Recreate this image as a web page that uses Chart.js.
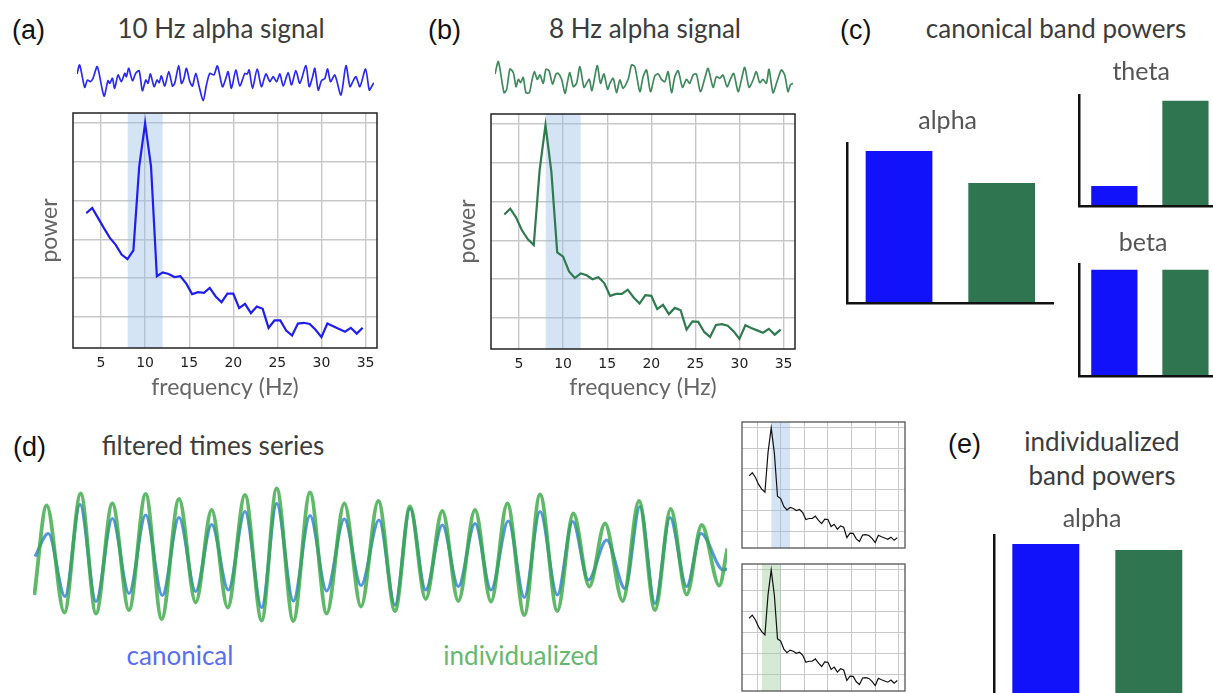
<!DOCTYPE html>
<html lang="en">
<head>
<meta charset="utf-8">
<title>Individualized alpha band powers</title>
<script src="https://cdn.jsdelivr.net/npm/chart.js@4.4.1/dist/chart.umd.min.js"></script>
<style>
  body { margin: 0; width: 1213px; height: 693px; overflow: hidden; background: #fff; position: relative; }
  canvas { position: absolute; }
  .lbl { position: absolute; font-family: "Liberation Sans", Arial, sans-serif; font-size: 27px; color: #111; line-height: 1; transform: translateY(-50%); }
  .hd { position: absolute; font-family: Lato, sans-serif; font-size: 26px; color: #3c3c3c; line-height: 1; white-space: nowrap; transform: translate(-50%, -50%); }
</style>
</head>
<body>
  <div class="lbl" style="left:12px;top:30px">(a)</div>
  <div class="hd" style="left:221px;top:28px">10 Hz alpha signal</div>
  <div class="lbl" style="left:428px;top:30px">(b)</div>
  <div class="hd" style="left:645px;top:28px">8 Hz alpha signal</div>
  <div class="lbl" style="left:840px;top:30px">(c)</div>
  <div class="hd" style="left:1056px;top:28px">canonical band powers</div>
  <div class="lbl" style="left:13px;top:447px">(d)</div>
  <div class="hd" style="left:213px;top:445px">filtered times series</div>
  <div class="hd" style="left:180px;top:655px;color:#5a6ef0">canonical</div>
  <div class="hd" style="left:521px;top:655px;color:#64b96e">individualized</div>
  <div class="lbl" style="left:948px;top:444px">(e)</div>
  <div class="hd" style="left:1102px;top:441px">individualized</div>
  <div class="hd" style="left:1102px;top:475px">band powers</div>

  <canvas id="traceA" width="297" height="42" style="left:77px;top:62px"></canvas>
  <canvas id="traceB" width="298" height="40" style="left:495px;top:58px"></canvas>
  <canvas id="psdA" width="370" height="297" style="left:20px;top:108px"></canvas>
  <canvas id="psdB" width="370" height="297" style="left:438px;top:108px"></canvas>
  <canvas id="alphaC" width="220" height="208" style="left:838px;top:100px"></canvas>
  <canvas id="thetaC" width="168" height="161" style="left:1058px;top:50px"></canvas>
  <canvas id="betaC" width="168" height="159" style="left:1058px;top:222px"></canvas>
  <canvas id="waves" width="694" height="150" style="left:33px;top:480px"></canvas>
  <canvas id="miniTop" width="165" height="128" style="left:741px;top:421px"></canvas>
  <canvas id="miniBottom" width="165" height="129" style="left:741px;top:563px"></canvas>
  <canvas id="alphaE" width="225" height="206" style="left:980px;top:495px"></canvas>

  <script>
    // power spectra (arbitrary log power units)
    const freqs = [3.33, 4, 4.67, 5.33, 6, 6.67, 7.33, 8, 8.67, 9.33, 10, 10.67, 11.33, 12, 12.67, 13.33,
      14, 14.67, 15.33, 16, 16.67, 17.33, 18, 18.67, 19.33, 20, 20.67, 21.33, 22, 22.67, 23.33, 24,
      24.67, 25.33, 26, 26.67, 27.33, 28, 28.67, 29.33, 30, 30.67, 31.33, 32, 32.67, 33.33, 34, 34.67];
    const psd10 = [2.68, 2.81, 2.55, 2.29, 2.04, 1.86, 1.61, 1.49, 1.72, 3.88, 5.0, 3.88, 1.05, 1.15, 1.11, 1.03,
      1.05, 0.86, 0.59, 0.64, 0.62, 0.75, 0.53, 0.38, 0.60, 0.60, 0.23, 0.34, 0.10, 0.27, 0.21, -0.28,
      -0.09, -0.09, -0.35, -0.48, -0.17, -0.15, -0.18, -0.33, -0.52, -0.17, -0.24, -0.31, -0.38, -0.28, -0.43, -0.28];
    const psd8 = [2.67, 2.82, 2.59, 2.26, 2.03, 1.88, 3.80, 4.98, 3.76, 1.69, 1.58, 1.20, 1.03, 1.15, 1.10, 1.0,
      1.05, 0.90, 0.57, 0.62, 0.62, 0.73, 0.53, 0.37, 0.59, 0.57, 0.23, 0.34, 0.10, 0.26, 0.20, -0.30,
      -0.09, -0.10, -0.36, -0.49, -0.18, -0.16, -0.20, -0.34, -0.54, -0.19, -0.26, -0.32, -0.38, -0.28, -0.43, -0.30];
    const xTicks = [5, 10, 15, 20, 25, 30, 35];
    const yGrid = [0, 1, 2, 3, 4, 5];
    const bandCanonical = [8, 12];
    const bandIndividual = [6, 10];

    // raw signals (ms, uV)
    const rawT10 = [0, 18, 52, 70, 90, 108, 137, 182, 209, 221, 239, 254, 277, 299, 322, 333, 349, 374, 396, 419,
      441, 464, 479, 495, 520, 540, 554, 569, 592, 619, 644, 659, 686, 704, 720, 738, 761, 779, 801, 824,
      851, 873, 896, 923, 947, 981, 1004, 1019, 1042, 1071, 1098, 1132, 1148, 1161, 1184, 1215, 1244, 1274, 1301, 1323,
      1346, 1368, 1391, 1424, 1447, 1476, 1503, 1544, 1566, 1589, 1604, 1627, 1649, 1672, 1690, 1710, 1739, 1780, 1814, 1841,
      1863, 1881, 1908, 1946, 1971, 1987, 2003];
    const rawV10 = [11.5, 25, -8.5, 2.5, 0, 5, 22.5, -21.5, 1.5, -2.5, 5, -10, 10, 0, 12.5, 7.5, 20, 1.5, 12.5, 16.5,
      -13.5, 2.5, -2.5, 11.5, -7.5, 2.5, -1.5, 8.5, -6.5, 15, -6.5, -2.5, 24, -2.5, 3.5, 20, 0, -6.5, 12.5, -7.5,
      -28.5, -5, 12.5, 10, 23.5, -7.5, 5, 15, -10, 17.5, -6.5, 12.5, 11.5, 17.5, -10, 19, -7.5, 11.5, 0, 7.5,
      0, 11.5, -6.5, 13.5, -5, 16.5, -2.5, 24, -7.5, 7.5, 20, -12.5, 1.5, 5, 19, 0, 10, -20, 24, -7.5,
      1.5, 7.5, -7.5, 19, -12.5, -7.5, -1.5];
    const rawT8 = [0, 23, 61, 79, 101, 124, 142, 158, 173, 191, 209, 232, 248, 266, 286, 304, 326, 344, 365, 389,
      412, 428, 450, 473, 488, 506, 529, 551, 574, 601, 619, 637, 655, 691, 713, 736, 761, 776, 799, 821,
      844, 866, 900, 923, 945, 979, 1001, 1024, 1051, 1080, 1103, 1125, 1148, 1170, 1193, 1215, 1238, 1267, 1294, 1316,
      1339, 1361, 1388, 1418, 1440, 1474, 1496, 1519, 1541, 1568, 1591, 1613, 1643, 1665, 1688, 1717, 1744, 1766, 1789, 1811,
      1834, 1852, 1879, 1906, 1935, 1958, 1980, 1996, 2014];
    const rawV8 = [9, 27.5, -19, -14, 16.5, 11, -10, 1, -4, 4, -19, -19, -2.5, 12.5, 1, 7.5, -5, 16, 14, -6,
      9, 10, 1, -20, -5, 11, -10, -5, 20, -11, -5, 1, -16, 21.5, -5, 9, -14, -5, 2.5, -19,
      0, -12.5, 1, 22.5, 20, -17.5, 5, 15, -17.5, 6, 9, 1, -2.5, 12.5, -19, 5, 14, -11, 1, -5,
      7.5, 9, -17.5, 2.5, 17.5, -11, 5, 2.5, 7.5, -10, 1, 10, -17.5, 0, 19, -11, 0, 12.5, -4, 1,
      -5, 16, -19, -2.5, 15, 7.5, -17.5, -7.5, -5];

    // alpha-filtered time series, extrema (ms, uV)
    const filtTimeInd = [4, 41, 94, 143, 189, 238, 288, 338, 386, 438, 488, 536, 584, 636, 686, 731, 781, 831, 881, 934,
      984, 1036, 1086, 1131, 1178, 1228, 1276, 1326, 1374, 1423, 1474, 1521, 1573, 1621, 1669, 1716, 1769, 1818, 1866, 1913,
      1961, 2006, 2059, 2083];
    const filtInd = [-8, 9.9, -11.5, 12.3, -11.7, 10.3, -11, 12.2, -12.8, 11.2, -9.5, 9, -10.5, 12, -13.1, 13.3, -13.2, 12.5, -11.7, 10.3,
      -10.3, 10.8, -11.2, 9.7, -8.8, 8.8, -9.2, 9, -9.3, 10.3, -12, 12.1, -11.2, 8.3, -6.3, 6.3, -9.2, 10.8, -11, 9.2,
      -7.9, 6, -6.1, 1.3];
    const filtTimeCan = [6, 46, 96, 141, 189, 238, 288, 338, 388, 438, 488, 536, 586, 636, 686, 731, 781, 831, 881, 934,
      984, 1038, 1086, 1131, 1178, 1228, 1276, 1326, 1374, 1426, 1474, 1521, 1573, 1619, 1666, 1721, 1776, 1821, 1866, 1911,
      1961, 2004, 2071, 2083];
    const filtCan = [-0.3, 4.3, -8.3, 10.1, -9.3, 7.3, -7.7, 8, -8.1, 7.5, -7.3, 6.1, -7, 8.7, -10.5, 10.3, -9.2, 7.9, -7.2, 7.2,
      -6.1, 7, -10, 9.3, -7, 6, -6.3, 6.3, -7, 6.8, -8.5, 8.7, -8, 6.7, -5, 3, -6.7, 9.7, -9.7, 7.5,
      -6.3, 4.3, -3, -2.8];

    // band powers (10 Hz signal, 8 Hz signal)
    const bandLabels = ['10 Hz', '8 Hz'];
    const alphaCanonical = [152, 120];
    const thetaCanonical = [20, 105];
    const betaCanonical = [106, 106];
    const alphaIndividual = [152, 146];

    const blue = '#1111fa';
    const green = '#2f7650';

    Chart.defaults.font.family = 'Lato';

    const pts = (xs, ys) => xs.map((x, i) => ({ x: x, y: ys[i] }));

    // box around the plot area, like matplotlib spines
    const framePlugin = {
      id: 'frame',
      afterDraw(chart, args, opts) {
        const { ctx, chartArea: a } = chart;
        ctx.save();
        ctx.strokeStyle = opts.color;
        ctx.lineWidth = opts.width;
        ctx.strokeRect(a.left, a.top, a.right - a.left, a.bottom - a.top);
        ctx.restore();
      }
    };

    const base = { responsive: false, animation: false, devicePixelRatio: 1, events: [] };

    function traceChart(id, ts, vs, color, yMin, yMax) {
      return new Chart(document.getElementById(id), {
        type: 'line',
        data: { datasets: [{ data: pts(ts, vs), borderColor: color, borderWidth: 1.7, pointRadius: 0, tension: 0.25 }] },
        options: {
          ...base,
          plugins: { legend: { display: false }, tooltip: { enabled: false } },
          scales: {
            x: { type: 'linear', display: false, min: ts[0], max: ts[ts.length - 1] },
            y: { display: false, min: yMin, max: yMax }
          }
        }
      });
    }

    function psdChart(id, values, color, band, bandColor, big, padTop) {
      const yMax = 5.26;
      return new Chart(document.getElementById(id), {
        type: 'line',
        data: {
          datasets: [
            { data: pts(freqs, values), borderColor: color, borderWidth: big ? 2.2 : 1.2, pointRadius: 0, tension: 0, order: 1 },
            { data: pts(band, [yMax, yMax]), borderWidth: 0, pointRadius: 0, fill: 'start', backgroundColor: bandColor, order: 2 }
          ]
        },
        options: {
          ...base,
          layout: { padding: big ? { top: padTop, right: 13 } : 1 },
          plugins: {
            legend: { display: false }, tooltip: { enabled: false },
            frame: { color: big ? '#222' : '#555', width: big ? 1.5 : 1.3 }
          },
          scales: {
            x: {
              type: 'linear', min: 1.82, max: 36.3,
              afterBuildTicks: s => { s.ticks = xTicks.map(v => ({ value: v })); },
              afterFit: s => { s.height = big ? 297 - 235 - padTop : 0; },
              grid: { color: '#c8c8c8', lineWidth: big ? 1.4 : 1, drawTicks: false },
              border: { display: false },
              ticks: { display: big, padding: 7, color: '#222', font: { family: 'DejaVu Sans', size: 14 } },
              title: { display: big, text: 'frequency (Hz)', color: '#666', font: { size: 23 }, padding: { top: 0, bottom: 4 } }
            },
            y: {
              min: -0.8, max: yMax,
              afterBuildTicks: s => { s.ticks = yGrid.map(v => ({ value: v })); },
              afterFit: s => { s.width = big ? 53 : 0; },
              grid: { color: '#c8c8c8', lineWidth: big ? 1.4 : 1, drawTicks: false },
              border: { display: false },
              ticks: { display: false },
              title: { display: big, text: 'power', color: '#666', font: { size: 23 }, padding: { top: 16, bottom: 0 } }
            }
          }
        },
        plugins: [framePlugin]
      });
    }

    function barChart(id, title, values, yMax, pad, titlePad, yWidth) {
      return new Chart(document.getElementById(id), {
        type: 'bar',
        data: {
          labels: bandLabels,
          datasets: [{ data: values, backgroundColor: [blue, green], barPercentage: 0.65, categoryPercentage: 1 }]
        },
        options: {
          ...base,
          layout: { padding: pad },
          plugins: {
            legend: { display: false }, tooltip: { enabled: false },
            title: { display: true, text: title, color: '#555', font: { size: 25, weight: 'normal', lineHeight: 1.2 }, padding: titlePad }
          },
          scales: {
            x: {
              grid: { display: false, drawTicks: false }, ticks: { display: false },
              border: { color: '#111', width: 2.5, z: 1 },
              afterFit: s => { s.height = 0; }
            },
            y: {
              min: 0, max: yMax,
              grid: { display: false, drawTicks: false }, ticks: { display: false },
              border: { color: '#111', width: 2.5, z: 1 },
              afterFit: s => { s.width = yWidth; }
            }
          }
        }
      });
    }

    traceChart('traceA', rawT10, rawV10, '#2a2af2', -33.5, 29.5);
    traceChart('traceB', rawT8, rawV8, '#3f8a5c', -27, 33);

    psdChart('psdA', psd10, '#1e1ef0', bandCanonical, 'rgba(147,187,230,0.4)', true, 5);
    psdChart('psdB', psd8, '#2f7a4e', bandCanonical, 'rgba(147,187,230,0.4)', true, 6);
    psdChart('miniTop', psd8, '#111', bandCanonical, 'rgba(147,187,230,0.4)', false);
    psdChart('miniBottom', psd8, '#111', bandIndividual, 'rgba(150,202,150,0.4)', false);

    barChart('alphaC', 'alpha', alphaCanonical, 160, { left: 4.3, right: 5, top: 0, bottom: 5 }, { top: 6, bottom: 7 }, 5.4);
    barChart('thetaC', 'theta', thetaCanonical, 110.7, { left: 3.2, right: 5, top: 0, bottom: 5 }, { top: 7, bottom: 8 }, 17.6);
    barChart('betaC', 'beta', betaCanonical, 111.7, { left: 7.2, right: 5, top: 0, bottom: 5 }, { top: 6, bottom: 6 }, 13.6);
    barChart('alphaE', 'alpha', alphaIndividual, 161, { left: 3.7, right: 4.7, top: 0, bottom: 5 }, { top: 9, bottom: 1 }, 10.6);

    new Chart(document.getElementById('waves'), {
      type: 'line',
      data: {
        datasets: [
          { data: pts(filtTimeInd, filtInd), borderColor: 'rgba(55,167,67,0.8)', borderWidth: 3.8, order: 0 },
          { data: pts(filtTimeCan, filtCan), borderColor: 'rgb(85,150,230)', borderWidth: 3.2, order: 1 }
        ]
      },
      options: {
        ...base,
        elements: { point: { radius: 0 }, line: { cubicInterpolationMode: 'monotone' } },
        plugins: { legend: { display: false }, tooltip: { enabled: false } },
        scales: {
          x: { type: 'linear', display: false, min: 0, max: 2082 },
          y: { display: false, min: -15, max: 15 }
        }
      }
    });
  </script>
</body>
</html>
